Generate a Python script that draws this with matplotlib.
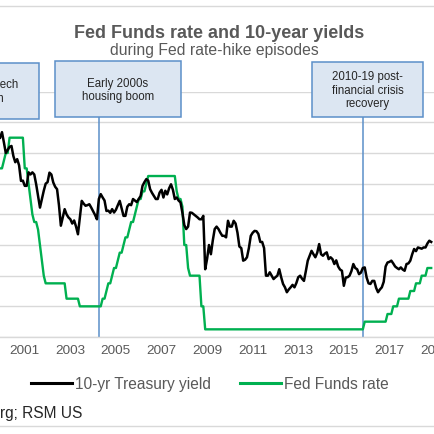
import matplotlib
matplotlib.use("Agg")
import matplotlib.pyplot as plt
from matplotlib.patches import Rectangle
from matplotlib.lines import Line2D

plt.rcParams['font.family'] = ['Liberation Sans', 'DejaVu Sans']

# ---- data (monthly, Dec 1999 .. Nov 2018) ----
start_year = 1999
start_month = 12
ten_year = [
    6.50,
    6.68, 6.35, 6.00, 6.10, 6.20, 6.23, 5.90, 5.70, 5.80, 5.60, 5.09, 5.10,
    4.93, 4.93, 5.37, 5.30, 5.37, 5.30, 4.98, 4.60, 4.22, 4.50, 4.77, 5.00,
    5.05, 5.36, 5.30, 5.04, 4.90, 4.82, 4.30, 3.63, 3.90, 4.17, 4.00, 3.90,
    3.84, 3.70, 3.80, 3.60, 3.35, 3.90, 4.44, 4.35, 4.28, 4.30, 4.33, 4.22,
    4.10, 3.98, 3.84, 4.50, 4.66, 4.55, 4.45, 4.11, 4.12, 4.05, 4.17, 4.06,
    4.15, 4.30, 4.44, 4.20, 3.95, 3.95, 4.25, 4.33, 4.30, 4.50, 4.45, 4.40,
    4.50, 4.60, 4.93, 5.05, 5.15, 5.10, 4.82, 4.70, 4.60, 4.50, 4.50, 4.71,
    4.80, 4.55, 4.77, 4.65, 4.85, 4.98, 4.80, 4.50, 4.55, 4.45, 4.39, 4.05,
    3.65, 3.52, 3.60, 4.06, 4.05, 4.00, 3.95, 3.90, 3.84, 3.84, 3.95, 2.21,
    2.55, 3.00, 2.70, 3.15, 3.52, 3.60, 3.52, 3.40, 3.30, 3.30, 3.25, 3.79,
    3.60, 3.60, 3.79, 3.70, 3.40, 2.95, 2.90, 2.49, 2.52, 2.60, 2.90, 3.30,
    3.40, 3.46, 3.45, 3.36, 3.10, 3.10, 2.90, 2.00, 2.00, 2.11, 2.00, 1.89,
    1.95, 2.00, 2.21, 1.95, 1.73, 1.62, 1.46, 1.55, 1.62, 1.70, 1.62, 1.76,
    1.95, 2.00, 1.90, 1.83, 2.15, 2.49, 2.65, 2.81, 2.70, 2.60, 2.75, 3.03,
    2.70, 2.65, 2.72, 2.76, 2.54, 2.60, 2.54, 2.38, 2.50, 2.30, 2.20, 2.16,
    1.67, 1.94, 1.95, 2.00, 2.15, 2.38, 2.25, 2.21, 2.05, 2.10, 2.25, 2.27,
    1.94, 1.75, 1.73, 1.83, 1.83, 1.60, 1.46, 1.55, 1.62, 1.80, 2.30, 2.43,
    2.45, 2.49, 2.40, 2.30, 2.25, 2.21, 2.27, 2.20, 2.16, 2.38, 2.40, 2.49,
    2.70, 2.87, 2.80, 2.92, 2.90, 2.88, 2.92, 2.92, 3.05, 3.14, 3.10,
]
fed_funds = [
    5.50,
    5.50, 5.75, 6.00, 6.00, 6.50, 6.50, 6.50, 6.50, 6.50, 6.50, 6.50, 6.50,
    5.50, 5.50, 5.00, 4.50, 4.00, 3.75, 3.75, 3.50, 3.00, 2.50, 2.00, 1.75,
    1.75, 1.75, 1.75, 1.75, 1.75, 1.75, 1.75, 1.75, 1.75, 1.75, 1.25, 1.25,
    1.25, 1.25, 1.25, 1.25, 1.25, 1.00, 1.00, 1.00, 1.00, 1.00, 1.00, 1.00,
    1.00, 1.00, 1.00, 1.00, 1.00, 1.25, 1.25, 1.50, 1.75, 1.75, 2.00, 2.25,
    2.25, 2.50, 2.75, 2.75, 3.00, 3.25, 3.25, 3.50, 3.75, 3.75, 4.00, 4.25,
    4.50, 4.50, 4.75, 4.75, 5.00, 5.25, 5.25, 5.25, 5.25, 5.25, 5.25, 5.25,
    5.25, 5.25, 5.25, 5.25, 5.25, 5.25, 5.25, 5.25, 4.75, 4.50, 4.50, 4.25,
    3.00, 3.00, 2.25, 2.00, 2.00, 2.00, 2.00, 2.00, 2.00, 1.00, 1.00, 0.25,
    0.25, 0.25, 0.25, 0.25, 0.25, 0.25, 0.25, 0.25, 0.25, 0.25, 0.25, 0.25,
    0.25, 0.25, 0.25, 0.25, 0.25, 0.25, 0.25, 0.25, 0.25, 0.25, 0.25, 0.25,
    0.25, 0.25, 0.25, 0.25, 0.25, 0.25, 0.25, 0.25, 0.25, 0.25, 0.25, 0.25,
    0.25, 0.25, 0.25, 0.25, 0.25, 0.25, 0.25, 0.25, 0.25, 0.25, 0.25, 0.25,
    0.25, 0.25, 0.25, 0.25, 0.25, 0.25, 0.25, 0.25, 0.25, 0.25, 0.25, 0.25,
    0.25, 0.25, 0.25, 0.25, 0.25, 0.25, 0.25, 0.25, 0.25, 0.25, 0.25, 0.25,
    0.25, 0.25, 0.25, 0.25, 0.25, 0.25, 0.25, 0.25, 0.25, 0.25, 0.25, 0.50,
    0.50, 0.50, 0.50, 0.50, 0.50, 0.50, 0.50, 0.50, 0.50, 0.50, 0.50, 0.75,
    0.75, 0.75, 1.00, 1.00, 1.00, 1.25, 1.25, 1.25, 1.25, 1.25, 1.25, 1.50,
    1.50, 1.50, 1.75, 1.75, 1.75, 2.00, 2.00, 2.00, 2.25, 2.25, 2.25,
]
year_ticks = [2001, 2003, 2005, 2007, 2009, 2011, 2013, 2015, 2017, 2019]
series_names = ["10-yr Treasury yield", "Fed Funds rate"]
episodes = ["1990s tech\nboom", "Early 2000s\nhousing boom",
            "2010-19 post-\nfinancial crisis\nrecovery"]
episode_start = [None, 2004.26, 2015.86]

t = [start_year + (start_month - 1 + i) / 12.0 for i in range(len(ten_year))]

W = H = 435
fig = plt.figure(figsize=(4.35, 4.35), dpi=100)
fig.patch.set_facecolor("white")

def fx(px):
    return px / W

def fy(py):
    return 1 - py / H

ax = fig.add_axes([0, fy(338), 1, fy(92.7) - fy(338)])
ax.set_xlim(2001 - 25 / 23, 2001 + 410 / 23)
ax.set_ylim(0, 8)
ax.set_yticks(range(0, 9))
ax.yaxis.grid(True, color="#D9D9D9", lw=1.0)
ax.set_axisbelow(True)
ax.tick_params(axis="y", left=False, labelleft=False)
ax.set_xticks(year_ticks)
ax.set_xticklabels([str(y) for y in year_ticks])
ax.tick_params(axis="x", length=0, pad=5, labelsize=9.7, labelcolor="#595959")
for s in ["left", "right", "top"]:
    ax.spines[s].set_visible(False)
ax.spines["bottom"].set_color("#D9D9D9")
ax.spines["bottom"].set_linewidth(1.0)

box_blue = "#5B8FC9"
for x in episode_start:
    if x is not None:
        ax.plot([x, x], [0, 7.3], color=box_blue, lw=1.1, zorder=1.5, clip_on=False)

l1, = ax.plot(t, ten_year, color="black", lw=1.8, zorder=3)
l2, = ax.plot(t, fed_funds, color="#00B050", lw=1.7, zorder=2.5)

# episode boxes (figure pixel coords)
boxes = [(-59, 64.3, 39, 120), (55, 62.3, 181, 118.3), (311.7, 63.3, 423.3, 118.3)]
for (x0, y0, x1, y1), label in zip(boxes, episodes):
    fig.add_artist(Rectangle((fx(x0), fy(y1)), fx(x1 - x0), (y1 - y0) / H,
                             transform=fig.transFigure, fc="#DCE6F2",
                             ec=box_blue, lw=1.1, zorder=5))
    fig.text(fx((x0 + x1) / 2), fy((y0 + y1) / 2), label, ha="center",
             va="center", fontsize=8.3, color="#262626", zorder=6,
             linespacing=1.15)

fig.text(fx(219), fy(34), "Fed Funds rate and 10-year yields", ha="center",
         va="center", fontsize=13, fontweight="bold", color="#595959")
fig.text(fx(214), fy(50.5), "during Fed rate-hike episodes", ha="center",
         va="center", fontsize=11.3, color="#595959")

leg = fig.legend([l1, l2], series_names, loc="center",
                 bbox_to_anchor=(fx(210), fy(385)), ncol=2, frameon=False,
                 fontsize=11.2, handlelength=2.6, handletextpad=0.2,
                 columnspacing=1.9, labelcolor="#595959")
for h in leg.legend_handles:
    h.set_linewidth(2.2)

fig.text(fx(82), fy(413.3), "Source: Bloomberg; RSM US", ha="right",
         va="center", fontsize=11.2, color="#262626")

fig.add_artist(Line2D([0, 1], [fy(6.7), fy(6.7)], transform=fig.transFigure,
                      color="#D9D9D9", lw=1.0))
fig.add_artist(Line2D([0, 1], [fy(426.7), fy(426.7)], transform=fig.transFigure,
                      color="#D9D9D9", lw=1.0))

fig.savefig("out.png", dpi=100)
